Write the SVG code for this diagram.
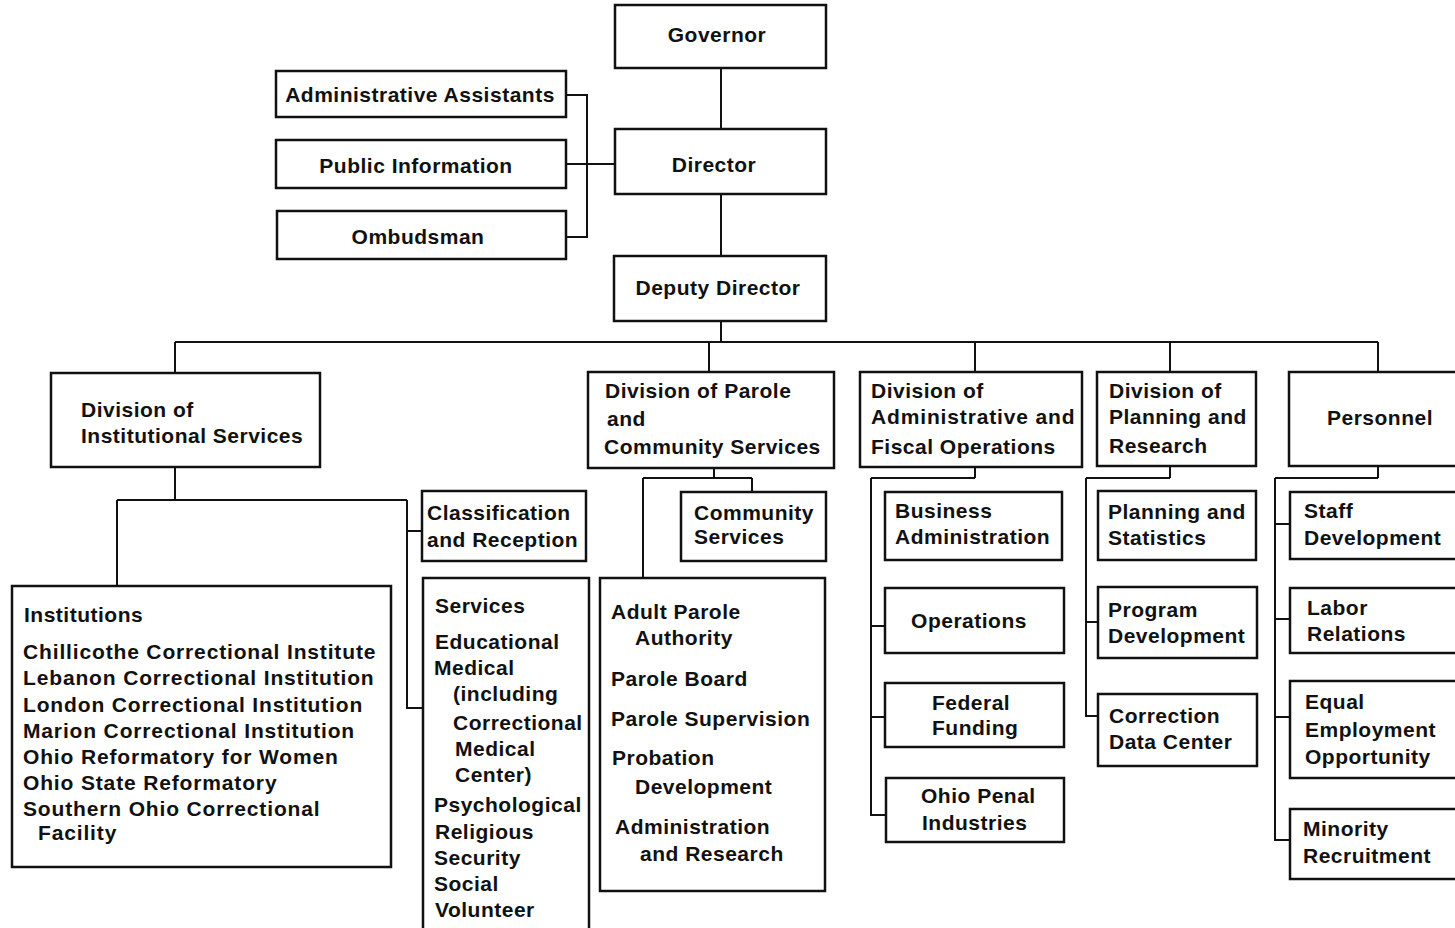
<svg xmlns="http://www.w3.org/2000/svg" width="1455" height="928" viewBox="0 0 1455 928">
<style>
.b{fill:#fff;stroke:#111;stroke-width:2.5}
.c{fill:none;stroke:#111;stroke-width:2}
text{font-family:"Liberation Sans",Arial,sans-serif;font-weight:bold;font-size:21px;fill:#111;letter-spacing:0.5px}
.m{text-anchor:middle}
.w{letter-spacing:0.85px}
</style>
<rect width="1455" height="928" fill="#fff"/>
<g id="connectors">
<path class="c" d="M721 68V129M721 194V256M721 321V342M175 342H1378M175 342V373M709 342V372M975 342V372M1170 342V372M1378 342V372"/>
<path class="c" d="M566 95H587V237H566M566 164H615"/>
<path class="c" d="M175 467V500M117 500H407M117 500V586M407 500V708H423M407 531H422"/>
<path class="c" d="M714 468V478M643 478H752M752 478V492M643 478V578"/>
<path class="c" d="M975 467V478M871 478H975M871 478V815H886M871 626H885M871 717H885"/>
<path class="c" d="M1170 466V478M1086 478H1170M1086 478V716H1098M1086 622H1098"/>
<path class="c" d="M1378 466V478M1275 478H1378M1275 478V840H1290M1275 524H1290M1275 619H1290M1275 717H1290"/>
</g>
<g id="governor"><rect class="b" x="615" y="5" width="211" height="63"/><text class="m" x="717" y="42">Governor</text></g>
<g id="admin-assistants"><rect class="b" x="276" y="71" width="290" height="46"/><text class="m" x="420" y="102">Administrative Assistants</text></g>
<g id="public-information"><rect class="b" x="276" y="140" width="290" height="48"/><text class="m" x="416" y="173">Public Information</text></g>
<g id="ombudsman"><rect class="b" x="277" y="211" width="289" height="48"/><text class="m" x="418" y="244">Ombudsman</text></g>
<g id="director"><rect class="b" x="615" y="129" width="211" height="65"/><text class="m" x="714" y="172">Director</text></g>
<g id="deputy-director"><rect class="b" x="614" y="256" width="212" height="65"/><text class="m" x="718" y="295">Deputy Director</text></g>
<g id="div-institutional"><rect class="b" x="51" y="373" width="269" height="94"/><text x="81" y="417">Division of</text><text x="81" y="443">Institutional Services</text></g>
<g id="div-parole"><rect class="b" x="588" y="372" width="246" height="96"/><text x="605" y="398">Division of Parole</text><text x="607" y="426">and</text><text x="604" y="454">Community Services</text></g>
<g id="div-admin"><rect class="b" x="860" y="372" width="222" height="95"/><text x="871" y="398">Division of</text><text class="w" x="871" y="424">Administrative and</text><text x="871" y="454">Fiscal Operations</text></g>
<g id="div-planning"><rect class="b" x="1097" y="372" width="159" height="94"/><text x="1109" y="398">Division of</text><text x="1109" y="424">Planning and</text><text x="1109" y="453">Research</text></g>
<g id="personnel"><rect class="b" x="1289" y="372" width="170" height="94"/><text class="m" x="1380" y="425">Personnel</text></g>
<g id="classification"><rect class="b" x="422" y="491" width="164" height="70"/><text x="427" y="520">Classification</text><text x="427" y="547">and Reception</text></g>
<g id="institutions"><rect class="b" x="12" y="586" width="379" height="281"/>
<text x="24" y="622">Institutions</text>
<text class="w" x="23" y="659">Chillicothe Correctional Institute</text>
<text class="w" x="23" y="685">Lebanon Correctional Institution</text>
<text class="w" x="23" y="712">London Correctional Institution</text>
<text class="w" x="23" y="738">Marion Correctional Institution</text>
<text class="w" x="23" y="764">Ohio Reformatory for Women</text>
<text class="w" x="23" y="790">Ohio State Reformatory</text>
<text class="w" x="23" y="816">Southern Ohio Correctional</text>
<text class="w" x="38" y="840">Facility</text></g>
<g id="services"><rect class="b" x="423" y="578" width="166" height="360"/>
<text x="435" y="613">Services</text>
<text x="435" y="649">Educational</text>
<text x="434" y="675">Medical</text>
<text x="453" y="701">(including</text>
<text x="453" y="730">Correctional</text>
<text x="455" y="756">Medical</text>
<text x="455" y="782">Center)</text>
<text x="434" y="812">Psychological</text>
<text x="435" y="839">Religious</text>
<text x="434" y="865">Security</text>
<text x="434" y="891">Social</text>
<text x="435" y="917">Volunteer</text></g>
<g id="community-services"><rect class="b" x="681" y="492" width="145" height="69"/><text x="694" y="520">Community</text><text x="694" y="544">Services</text></g>
<g id="adult-parole"><rect class="b" x="600" y="578" width="225" height="313"/>
<text x="611" y="619">Adult Parole</text>
<text x="635" y="645">Authority</text>
<text x="611" y="686">Parole Board</text>
<text x="611" y="726">Parole Supervision</text>
<text x="612" y="765">Probation</text>
<text x="635" y="794">Development</text>
<text x="615" y="834">Administration</text>
<text x="640" y="861">and Research</text></g>
<g id="business-admin"><rect class="b" x="885" y="492" width="177" height="68"/><text x="895" y="518">Business</text><text x="895" y="544">Administration</text></g>
<g id="operations"><rect class="b" x="885" y="588" width="179" height="65"/><text class="m" x="969" y="628">Operations</text></g>
<g id="federal-funding"><rect class="b" x="885" y="683" width="179" height="64"/><text x="932" y="710">Federal</text><text x="932" y="735">Funding</text></g>
<g id="ohio-penal"><rect class="b" x="886" y="778" width="178" height="64"/><text x="921" y="803">Ohio Penal</text><text x="922" y="830">Industries</text></g>
<g id="planning-statistics"><rect class="b" x="1098" y="491" width="158" height="69"/><text x="1108" y="519">Planning and</text><text x="1108" y="545">Statistics</text></g>
<g id="program-development"><rect class="b" x="1098" y="587" width="159" height="71"/><text x="1108" y="617">Program</text><text x="1108" y="643">Development</text></g>
<g id="correction-data"><rect class="b" x="1098" y="694" width="159" height="72"/><text x="1109" y="723">Correction</text><text x="1109" y="749">Data Center</text></g>
<g id="staff-development"><rect class="b" x="1290" y="492" width="170" height="67"/><text x="1304" y="518">Staff</text><text x="1304" y="545">Development</text></g>
<g id="labor-relations"><rect class="b" x="1290" y="588" width="170" height="65"/><text x="1307" y="615">Labor</text><text x="1307" y="641">Relations</text></g>
<g id="equal-employment"><rect class="b" x="1290" y="681" width="170" height="97"/><text x="1305" y="709">Equal</text><text x="1305" y="737">Employment</text><text x="1305" y="764">Opportunity</text></g>
<g id="minority-recruitment"><rect class="b" x="1290" y="809" width="170" height="70"/><text x="1303" y="836">Minority</text><text x="1303" y="863">Recruitment</text></g>
</svg>
